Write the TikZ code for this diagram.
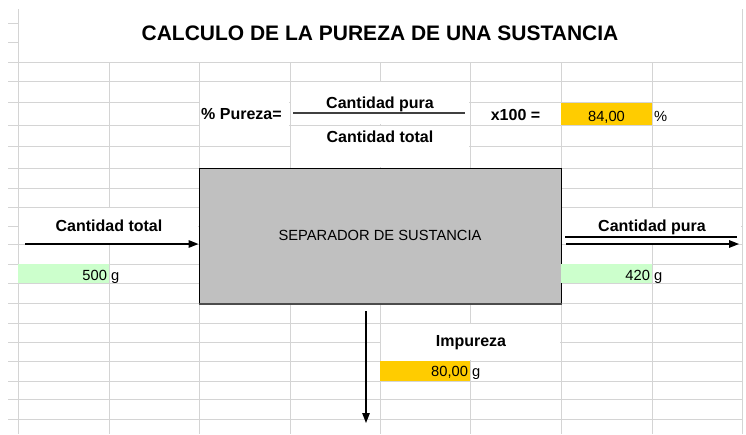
\documentclass[tikz,border=0pt]{standalone}
\usepackage{fontspec}
\setmainfont{Liberation Sans}
\usetikzlibrary{arrows.meta,positioning}
\definecolor{rejilla}{RGB}{212,212,212}
\definecolor{amarillo}{RGB}{255,204,0}
\definecolor{verde}{RGB}{204,255,204}
\definecolor{grisc}{RGB}{192,192,192}
\tikzset{lin/.style={draw=rejilla,line width=1pt}}
\tikzset{txtt/.style={font=\fontsize{21}{25}\selectfont\bfseries,inner sep=0pt,anchor=base}}
\tikzset{txtb/.style={font=\fontsize{16}{19}\selectfont\bfseries,inner sep=0pt,anchor=base}}
\tikzset{txtn/.style={font=\fontsize{14.7}{17}\selectfont,inner sep=0pt,anchor=base}}
\tikzset{celam/.style={fill=amarillo,inner sep=0pt,minimum width=91pt,minimum height=22pt}}
\tikzset{celve/.style={fill=verde,inner sep=0pt,minimum width=91pt,minimum height=19.5pt}}
\tikzset{caja/.style={draw=black,fill=grisc,line width=1pt,inner sep=0pt,minimum width=362pt,minimum height=135pt,font=\fontsize{14.7}{17}\selectfont}}
\tikzset{flecha/.style={line width=1.5pt,-{Triangle[length=10pt,width=7.5pt]}}}

\begin{document}
\begin{tikzpicture}[x=1pt,y=-1pt]
\useasboundingbox[fill=white] (0,0) rectangle (746,434);
% rejilla de la hoja
\foreach \y in {62,81,102,125,146,168,188,207,226,244,264,283,303,323,342,361,381,399,419}
	\draw[lin] (18,\y) -- (742,\y);
\foreach \y in {23,42,62,81,102,125,146,168,188,207,226,244,264,283,303,323,342,361,381,399,419}
	\draw[lin] (8,\y) -- (18,\y);
\foreach \x in {109,199,290,380,470,561,652}
	\draw[lin] (\x,62) -- (\x,434);
\draw[lin] (18,9) -- (18,434);
\draw[lin] (742,9) -- (742,434);
% celdas combinadas
\fill[white] (199.6,81.6) rectangle (289.4,145.4);
\fill[white] (290.6,81.6) rectangle (469.4,124.4);
\fill[white] (290.6,125.6) rectangle (469.4,167.4);
\fill[white] (18.6,207.6) rectangle (198.4,243.4);
\fill[white] (561.6,207.6) rectangle (741.4,243.4);
\fill[white] (380.6,323.6) rectangle (560.4,360.4);

\node[txtt] (titulo) at (380,40.5) {CALCULO DE LA PUREZA DE UNA SUSTANCIA};

% formula
\node[txtb,anchor=base west] (pur) at (201,119) {\% Pureza=};
\node[txtb] (cpura) at (380,108) {Cantidad pura};
\node[txtb] (ctotal) at (380,142.5) {Cantidad total};
\coordinate (fr1) at (293,113);
\coordinate (fr2) at (465,113);
\draw[line width=1.2pt,black!75] (fr1) -- (fr2);
\node[txtb] (x100) at (515.5,120) {x100 =};
\node[celam] (cpct) at (606.5,113.5) {};
\node[txtn] (vpct) at (606.5,121) {84,00};
\node[txtn,anchor=base west] (upct) at (654,121) {\%};

% separador
\node[caja] (sep) at (380,235.5) {SEPARADOR DE SUSTANCIA};
\draw[line width=2pt,black!70] (sep.south west) -- (sep.south east);

% entrada
\node[txtb] (lent) at (109,231) {Cantidad total};
\coordinate (ent) at (25,244);
\draw[flecha] (ent) -- (ent -| sep.west);
\node[celve] (c500) at (63.5,273.5) {};
\node[txtn,anchor=base east] (v500) at ([xshift=-2pt]c500.east |- 0,280) {500};
\node[txtn,anchor=base west] (u500) at (111,280) {g};

% salida
\node[txtb] (lsal) at (652,231) {Cantidad pura};
\coordinate (sub1) at (565,237);
\coordinate (sub2) at (737,237);
\draw[line width=1.2pt] (sub1) -- (sub2);
\coordinate (sal) at (566,244);
\coordinate (fin) at (739,244);
\draw[flecha] (sal) -- (fin);
\node[celve] (c420) at (606.5,273.5) {};
\node[txtn,anchor=base east] (v420) at ([xshift=-2pt]c420.east |- 0,280) {420};
\node[txtn,anchor=base west] (u420) at (654,280) {g};

% impureza
\node[txtb] (limp) at (471,346.5) {Impureza};
\node[fill=amarillo,inner sep=0pt,minimum width=90pt,minimum height=19.5pt] (c80) at (425,371) {};
\node[txtn,anchor=base east] (v80) at ([xshift=-2pt]c80.east |- 0,376) {80,00};
\node[txtn,anchor=base west] (u80) at (472,376) {g};
\coordinate (imp1) at (366,311);
\coordinate (imp2) at (366,423);
\draw[flecha,line width=1.3pt] (imp1) -- (imp2);
\end{tikzpicture}
\end{document}
